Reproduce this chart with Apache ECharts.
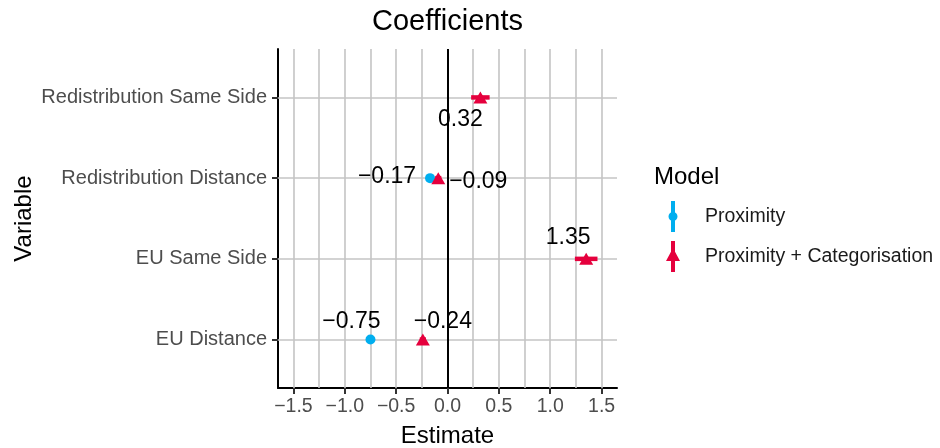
<!DOCTYPE html>
<html>
<head>
<meta charset="utf-8">
<script src="https://cdn.jsdelivr.net/npm/echarts@6/dist/echarts.min.js"></script>
<style>
  html, body { margin: 0; padding: 0; background: #fff; }
  #chart { width: 940px; height: 448px; }
</style>
</head>
<body>
<div id="chart"></div>
<script>
// Variables, bottom to top on the y axis
const categories = ['EU Distance', 'EU Same Side', 'Redistribution Distance', 'Redistribution Same Side'];

// Model 1: Proximity (no estimate for the "Same Side" terms)
const proximityEst  = [-0.75, null, -0.17, null];
const proximityLow  = [-0.78, null, -0.20, null];
const proximityHigh = [-0.72, null, -0.14, null];

// Model 2: Proximity + Categorisation
const categorisationEst  = [-0.24, 1.35, -0.09, 0.32];
const categorisationLow  = [-0.27, 1.24, -0.12, 0.23];
const categorisationHigh = [-0.21, 1.46, -0.06, 0.41];

// Axis ticks
const xTicks = [-1.5, -1.0, -0.5, 0.0, 0.5, 1.0, 1.5];
const xGrid = [-1.5, -1.25, -1.0, -0.75, -0.5, -0.25, 0.0, 0.25, 0.5, 0.75, 1.0, 1.25, 1.5];

const BLUE = '#00AEEF';
const RED = '#E5003D';
const FONT = 'Liberation Sans, Arial, Helvetica, sans-serif';

// Label placement per model, by variable index (pixel nudges)
const proxLabelOffset = [[-19, -18], null, [-43, -1], null];
const catLabelOffset = [[20, -18], [-18, -21], [40, 4], [-20, 22]];

const fmtNum = (v, d) => v.toFixed(d).replace('-', '\u2212');

function pointData(est, offsets) {
  const out = [];
  est.forEach((v, i) => {
    if (v === null) return;
    out.push({
      value: [v, i],
      label: { offset: offsets[i] }
    });
  });
  return out;
}

function rangeData(lo, hi) {
  const out = [];
  lo.forEach((v, i) => {
    if (v === null) return;
    out.push([v, hi[i], i]);
  });
  return out;
}

function rangeRenderer(color) {
  return function (params, api) {
    const y = api.value(2);
    const a = api.coord([api.value(0), y]);
    const b = api.coord([api.value(1), y]);
    return {
      type: 'line',
      shape: { x1: a[0], y1: a[1], x2: b[0], y2: b[1] },
      style: { stroke: color, lineWidth: 4.5 }
    };
  };
}

const pointLabel = {
  show: true,
  position: 'inside',
  color: '#000',
  fontSize: 23,
  fontFamily: FONT,
  formatter: p => fmtNum(p.value[0], 2)
};

const iconProx = 'path://M3,0L7,0L7,31L3,31Z M0.5,15.5A4.5,4.5 0 1,1 9.5,15.5A4.5,4.5 0 1,1 0.5,15.5Z';
const iconCat = 'path://M5,0L9,0L9,31L5,31Z M7,7L14,20L0,20Z';

const chart = echarts.init(document.getElementById('chart'), null, { renderer: 'canvas' });

chart.setOption({
  animation: false,
  color: [BLUE, RED],
  textStyle: { fontFamily: FONT },
  title: [
    {
      text: 'Coefficients',
      left: 367,
      top: 2,
      textStyle: { fontSize: 29, fontWeight: 'normal', color: '#000', fontFamily: FONT }
    },
    {
      text: 'Model',
      left: 649,
      top: 160,
      textStyle: { fontSize: 24, fontWeight: 'normal', color: '#000', fontFamily: FONT }
    }
  ],
  legend: {
    orient: 'vertical',
    left: 666,
    top: 201,
    padding: 0,
    itemWidth: 14,
    itemHeight: 31,
    itemGap: 9,
    data: [
      { name: 'Proximity', icon: iconProx },
      { name: 'Proximity + Categorisation', icon: iconCat }
    ],
    textStyle: { fontSize: 19.5, color: '#1a1a1a', fontFamily: FONT, padding: [0, 0, 0, 20] }
  },
  grid: { left: 278, top: 49, width: 339, height: 339, containLabel: false, outerBoundsMode: 'none' },
  xAxis: {
    type: 'value',
    min: -1.65,
    max: 1.65,
    name: 'Estimate',
    nameLocation: 'middle',
    nameGap: 36,
    nameTextStyle: { fontSize: 24, color: '#000', fontFamily: FONT },
    axisLine: { show: true, onZero: false, lineStyle: { color: '#000', width: 2 } },
    axisTick: { show: true, length: 6, customValues: xTicks, lineStyle: { color: '#333', width: 2 } },
    axisLabel: {
      customValues: xTicks,
      margin: 9,
      fontSize: 19.5,
      color: '#4d4d4d',
      fontFamily: FONT,
      formatter: v => fmtNum(v, 1)
    },
    splitLine: { show: false }
  },
  yAxis: {
    type: 'value',
    min: -0.6,
    max: 3.6,
    name: 'Variable',
    nameLocation: 'middle',
    nameGap: 242,
    nameRotate: 90,
    nameTextStyle: { fontSize: 24, color: '#000', fontFamily: FONT },
    axisLine: { show: true, onZero: false, lineStyle: { color: '#000', width: 2 } },
    axisTick: { show: true, length: 6, customValues: [0, 1, 2, 3], lineStyle: { color: '#333', width: 2 } },
    axisLabel: {
      customValues: [0, 1, 2, 3],
      margin: 11,
      fontSize: 20,
      color: '#4d4d4d',
      fontFamily: FONT,
      formatter: v => categories[Math.round(v)]
    },
    splitLine: { show: false }
  },
  series: [
    {
      // panel grid lines
      name: 'gridlines',
      type: 'scatter',
      data: [],
      silent: true,
      z: 1,
      markLine: {
        silent: true,
        z: 1,
        symbol: 'none',
        label: { show: false },
        animation: false,
        lineStyle: { color: '#c4c4c4', width: 1.6, type: 'solid' },
        data: xGrid.map(v => ({ xAxis: v }))
          .concat([0, 1, 2, 3].map(v => ({ yAxis: v })))
      }
    },
    {
      // zero reference line
      name: 'zero',
      type: 'scatter',
      data: [],
      silent: true,
      z: 2,
      markLine: {
        silent: true,
        z: 2,
        symbol: 'none',
        label: { show: false },
        animation: false,
        lineStyle: { color: '#000', width: 2, type: 'solid' },
        data: [{ xAxis: 0 }]
      }
    },
    {
      name: 'Proximity',
      type: 'custom',
      z: 3,
      itemStyle: { color: BLUE },
      renderItem: rangeRenderer(BLUE),
      encode: { x: [0, 1], y: 2 },
      data: rangeData(proximityLow, proximityHigh)
    },
    {
      name: 'Proximity + Categorisation',
      type: 'custom',
      z: 3,
      itemStyle: { color: RED },
      renderItem: rangeRenderer(RED),
      encode: { x: [0, 1], y: 2 },
      data: rangeData(categorisationLow, categorisationHigh)
    },
    {
      name: 'Proximity',
      type: 'scatter',
      z: 4,
      symbol: 'circle',
      symbolSize: 10,
      itemStyle: { color: BLUE, opacity: 1 },
      label: pointLabel,
      data: pointData(proximityEst, proxLabelOffset)
    },
    {
      name: 'Proximity + Categorisation',
      type: 'scatter',
      z: 4,
      symbol: 'triangle',
      symbolSize: [14, 12],
      itemStyle: { color: RED, opacity: 1 },
      label: pointLabel,
      data: pointData(categorisationEst, catLabelOffset)
    }
  ]
});
</script>
</body>
</html>
